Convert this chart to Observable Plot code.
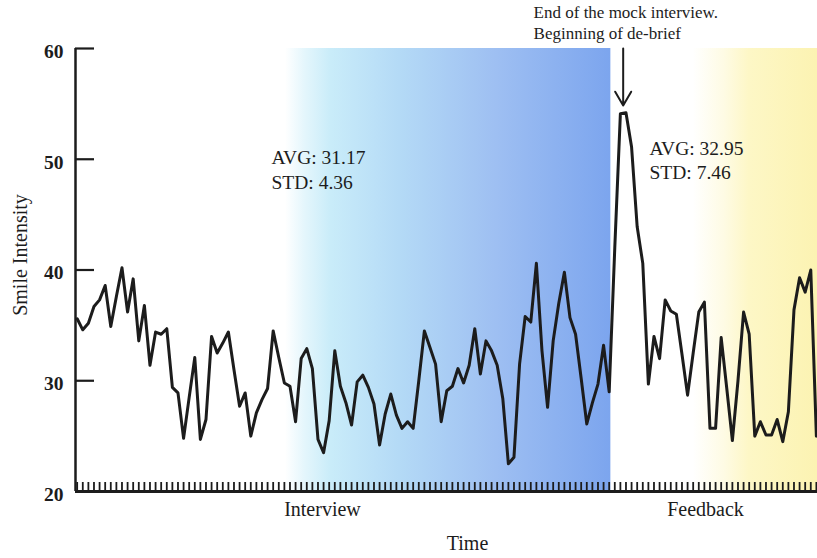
<!DOCTYPE html>
<html>
<head>
<meta charset="utf-8">
<script src="https://cdn.jsdelivr.net/npm/d3@7"></script>
<script src="https://cdn.jsdelivr.net/npm/@observablehq/plot@0.6"></script>
<style>
  html, body { margin: 0; padding: 0; background: #ffffff; }
  svg { display: block; }
</style>
</head>
<body>
<div id="chart"></div>
<script>
// Smile intensity per time sample
const smile = [
  35.6, 34.6, 35.2, 36.7, 37.3, 38.6, 34.9, 37.6, 40.2, 36.2,
  39.2, 33.6, 36.8, 31.4, 34.4, 34.2, 34.7, 29.4, 28.9, 24.8,
  28.5, 32.1, 24.7, 26.5, 34.0, 32.5, 33.4, 34.4, 31.0, 27.7,
  28.9, 25.0, 27.1, 28.3, 29.3, 34.5, 32.1, 29.8, 29.5, 26.3,
  32.0, 32.9, 31.1, 24.7, 23.5, 26.4, 32.7, 29.5, 28.0, 26.0,
  29.9, 30.5, 29.4, 27.9, 24.2, 27.0, 28.8, 26.9, 25.7, 26.3,
  25.7, 30.0, 34.5, 33.0, 31.5, 26.3, 29.1, 29.5, 31.1, 29.8,
  31.4, 34.7, 30.6, 33.6, 32.7, 31.4, 28.4, 22.5, 23.1, 31.5,
  35.8, 35.3, 40.6, 32.7, 27.6, 33.6, 37.0, 39.8, 35.7, 34.2,
  30.2, 26.1, 28.0, 29.7, 33.2, 29.0, 42.0, 54.1, 54.2, 51.1,
  43.9, 40.6, 29.7, 34.0, 32.0, 37.3, 36.3, 36.0, 32.4, 28.7,
  32.5, 36.2, 37.1, 25.7, 25.7, 33.9, 29.3, 24.6, 30.0, 36.2,
  34.2, 25.0, 26.3, 25.1, 25.1, 26.5, 24.5, 27.2, 36.4, 39.3,
  38.0, 40.0, 25.0
];

const yTicks = [20, 30, 40, 50, 60];
const xDomain = [-0.3, 132.2];
const yDomain = [20, 60];

// Phases of the session (in sample index units)
const phaseNames = ["Interview", "Feedback"];
const phaseStart = [37.2, 110.0];
const phaseEnd = [95.3, 132.2];
const phaseLabelAt = [43.8, 112.2];

// Statistics annotations
const statText = ["AVG: 31.17", "STD: 4.36", "AVG: 32.95", "STD: 7.46"];
const statX = [34.7, 34.7, 102.2, 102.2];
const statY = [50.16, 47.9, 50.97, 48.8];

// Event annotation
const noteText = ["End of the mock interview.", "Beginning of de-brief"];
const noteX = [81.5, 81.5];
const noteY = [63.25, 61.35];
const arrowX = 97.5;
const arrowFrom = 60;
const arrowTo = 54.85;

const ink = "#1c1c1c";
const idx = d3.range(smile.length);
const phases = phaseNames.map((name, i) => ({name, start: phaseStart[i], end: phaseEnd[i], label: phaseLabelAt[i]}));
const stats = statText.map((text, i) => ({text, x: statX[i], y: statY[i]}));
const notes = noteText.map((text, i) => ({text, x: noteX[i], y: noteY[i]}));

const defsMark = () => {
  const defs = d3.create("svg:defs");
  const blue = defs.append("linearGradient").attr("id", "gradInterview")
    .attr("x1", "0").attr("x2", "1").attr("y1", "0").attr("y2", "0");
  [[0, "#ffffff"], [0.06, "#e4f6fc"], [0.14, "#c9ecf9"], [0.35, "#b4daf6"], [0.65, "#9ebff2"], [1, "#7ca5ee"]]
    .forEach(([o, c]) => blue.append("stop").attr("offset", o).attr("stop-color", c));
  const yellow = defs.append("linearGradient").attr("id", "gradFeedback")
    .attr("x1", "0").attr("x2", "1").attr("y1", "0").attr("y2", "0");
  [[0, "#ffffff"], [0.25, "#fefbe4"], [0.45, "#fdf7c6"], [1, "#fcf3b2"]]
    .forEach(([o, c]) => yellow.append("stop").attr("offset", o).attr("stop-color", c));
  return defs.node();
};

const chart = Plot.plot({
  width: 817,
  height: 558,
  marginTop: 48,
  marginBottom: 67,
  marginLeft: 75,
  marginRight: 0,
  x: {domain: xDomain, axis: null},
  y: {domain: yDomain, axis: null},
  style: {fontFamily: "'Liberation Serif', 'Times New Roman', serif", color: ink, background: "#ffffff"},
  marks: [
    defsMark,
    Plot.rect([phases[0]], {x1: "start", x2: "end", y1: () => yDomain[0], y2: () => yDomain[1], fill: "url(#gradInterview)"}),
    Plot.rect([phases[1]], {x1: "start", x2: "end", y1: () => yDomain[0], y2: () => yDomain[1], fill: "url(#gradFeedback)"}),
    Plot.tickX(idx, {x: d => d, stroke: ink, strokeWidth: 1.8, insetTop: 434}),
    Plot.ruleY([yDomain[0]], {stroke: ink, strokeWidth: 3}),
    Plot.ruleX([xDomain[0]], {stroke: ink, strokeWidth: 2.5}),
    Plot.tickY(yTicks.slice(1), {y: d => d, stroke: ink, strokeWidth: 2.2, insetRight: 723}),
    Plot.text(yTicks, {frameAnchor: "left", y: d => d, text: d => String(d), dx: -12, dy: 3, textAnchor: "end", fontWeight: "bold", fontSize: 19.5, fill: ink}),
    Plot.line(smile, {x: (d, i) => i, y: d => d, stroke: ink, strokeWidth: 3, strokeLinejoin: "round"}),
    Plot.arrow([0], {x1: () => arrowX, x2: () => arrowX, y1: () => arrowFrom, y2: () => arrowTo, stroke: ink, strokeWidth: 2, headLength: 12}),
    Plot.text(stats, {x: "x", y: "y", text: "text", textAnchor: "start", fontSize: 19.5, fill: ink}),
    Plot.text(notes, {x: "x", y: "y", text: "text", textAnchor: "start", fontSize: 17, fill: ink}),
    Plot.text(phases, {x: "label", frameAnchor: "bottom", dy: 24, text: "name", fontSize: 20, fill: ink}),
    Plot.text(["Smile Intensity"], {frameAnchor: "left", dx: -55, dy: -15, rotate: -90, textAnchor: "middle", fontSize: 20, fill: ink}),
    Plot.text(["Time"], {x: () => 69.7, frameAnchor: "bottom", dy: 58, fontSize: 20, fill: ink})
  ]
});

document.getElementById("chart").append(chart);
</script>
</body>
</html>
